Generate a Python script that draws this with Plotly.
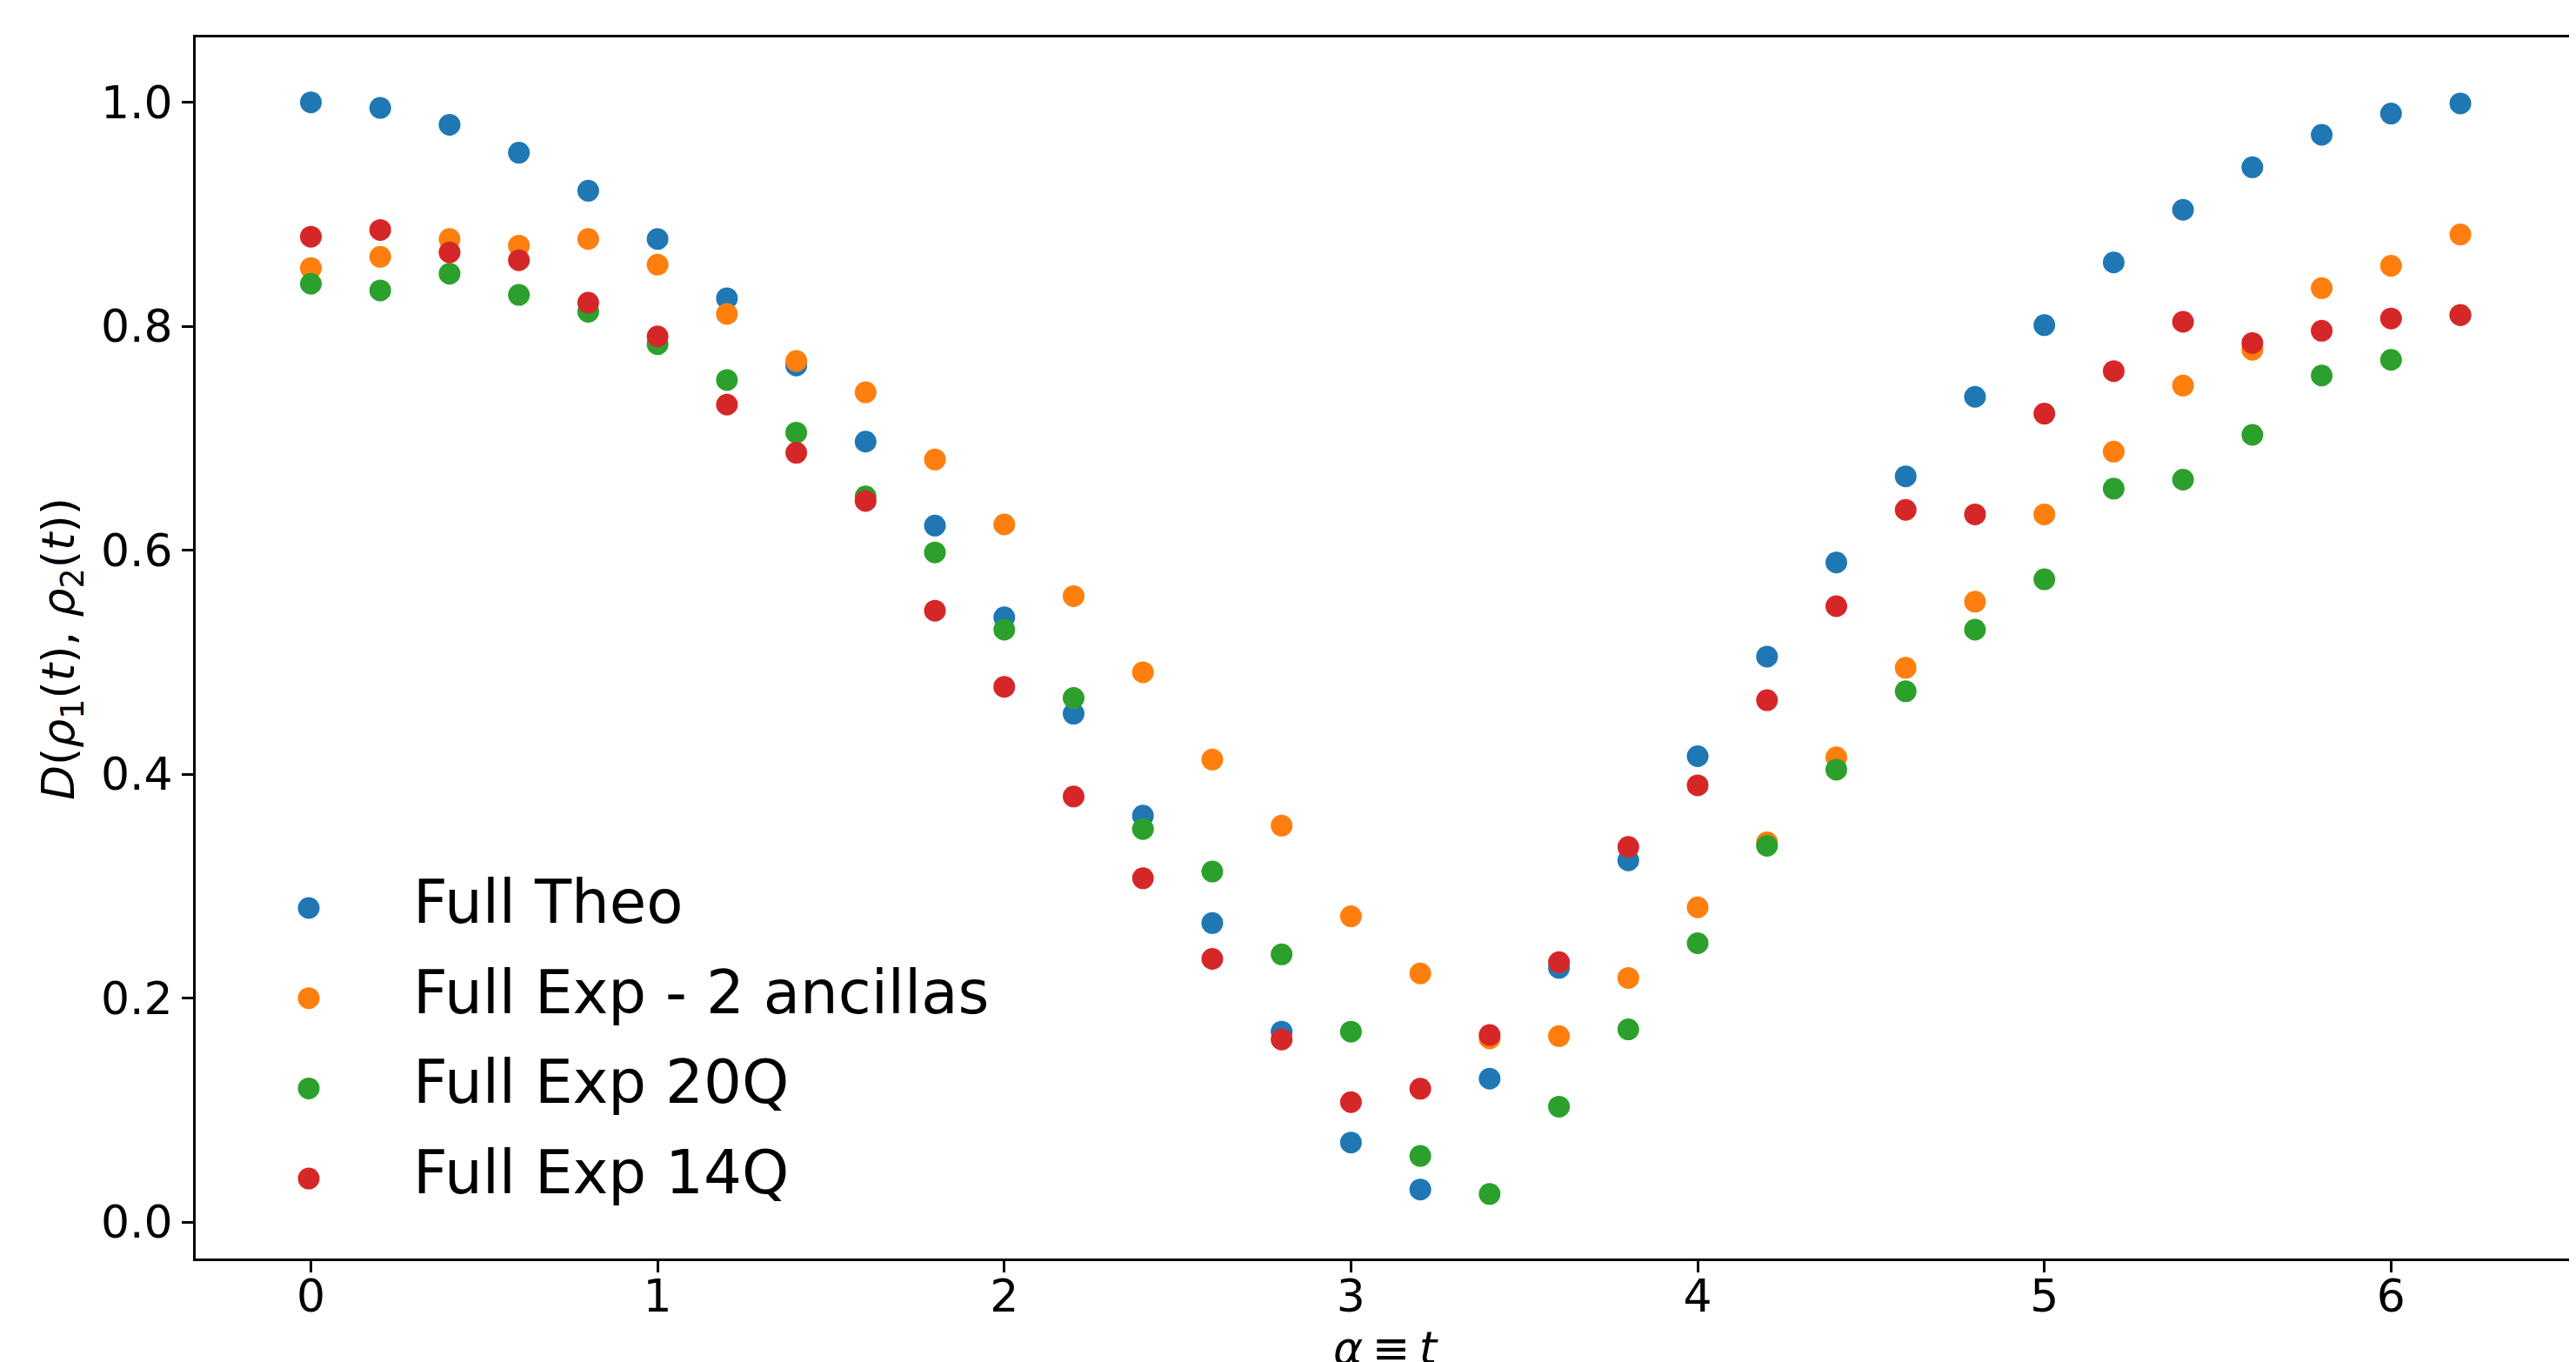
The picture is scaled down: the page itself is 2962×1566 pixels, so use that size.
import plotly.graph_objects as go

t_values = [0.0, 0.2, 0.4, 0.6, 0.8, 1.0, 1.2, 1.4, 1.6, 1.8, 2.0, 2.2, 2.4, 2.6, 2.8, 3.0,
            3.2, 3.4, 3.6, 3.8, 4.0, 4.2, 4.4, 4.6, 4.8, 5.0, 5.2, 5.4, 5.6, 5.8, 6.0, 6.2]

full_theo = [1.000, 0.995, 0.980, 0.955, 0.921, 0.878, 0.825, 0.765, 0.697, 0.622, 0.540,
             0.454, 0.363, 0.267, 0.170, 0.071, 0.029, 0.128, 0.227, 0.323, 0.416, 0.505,
             0.589, 0.666, 0.737, 0.801, 0.857, 0.904, 0.942, 0.971, 0.990, 0.999]

full_exp_2anc = [0.852, 0.862, 0.878, 0.872, 0.878, 0.855, 0.811, 0.769, 0.741, 0.681, 0.623,
                 0.559, 0.491, 0.413, 0.354, 0.273, 0.222, 0.164, 0.166, 0.218, 0.281, 0.339,
                 0.415, 0.495, 0.554, 0.632, 0.688, 0.747, 0.779, 0.834, 0.854, 0.882]

full_exp_20q = [0.838, 0.832, 0.847, 0.828, 0.813, 0.784, 0.752, 0.705, 0.648, 0.598, 0.529,
                0.468, 0.351, 0.313, 0.239, 0.170, 0.059, 0.025, 0.103, 0.172, 0.249, 0.336,
                0.404, 0.474, 0.529, 0.574, 0.655, 0.663, 0.703, 0.756, 0.770, 0.810]

full_exp_14q = [0.880, 0.886, 0.866, 0.859, 0.821, 0.791, 0.730, 0.687, 0.644, 0.546, 0.478,
                0.380, 0.307, 0.235, 0.163, 0.107, 0.119, 0.167, 0.232, 0.335, 0.390, 0.466,
                0.550, 0.636, 0.632, 0.722, 0.760, 0.804, 0.785, 0.796, 0.807, 0.810]

series_names = ["Full Theo", "Full Exp - 2 ancillas", "Full Exp 20Q", "Full Exp 14Q"]
series_values = [full_theo, full_exp_2anc, full_exp_20q, full_exp_14q]
series_colors = ["#1f77b4", "#ff7f0e", "#2ca02c", "#d62728"]

x_ticks = [0, 1, 2, 3, 4, 5, 6]
y_ticks = [0.0, 0.2, 0.4, 0.6, 0.8, 1.0]
y_tick_labels = ["0.0", "0.2", "0.4", "0.6", "0.8", "1.0"]

x_title = "<i>α</i>\u2009≡\u2009<i>t</i>"
y_title = "<i>D</i>(<i>ρ</i><sub>1</sub>(<i>t</i>), <i>ρ</i><sub>2</sub>(<i>t</i>))"

W, H = 2962, 1566
FONT = "DejaVu Sans"
OFF = 8  # page body margin shifts the figure by this much
ML, MT = 225 - OFF, 43 - OFF
MR = W - (2961 - OFF)
MB = H - (1447 - OFF)
PW, PH = W - ML - MR, H - MT - MB


def px_x(px):
    return (px - OFF - ML) / PW


def px_y(py):
    return (H - MB - (py - OFF)) / PH


fig = go.Figure()
for name, vals, col in zip(series_names, series_values, series_colors):
    fig.add_trace(go.Scatter(
        x=t_values, y=vals, mode="markers", name=name, showlegend=False,
        marker=dict(color=col, size=25, line=dict(width=0)),
    ))

axis_common = dict(
    showline=True, linecolor="black", linewidth=3, mirror=True,
    ticks="outside", ticklen=13, tickwidth=3, tickcolor="black",
    showgrid=False, zeroline=False,
    tickfont=dict(family=FONT, size=52, color="black"),
    automargin=False,
)

# legend (manual, so that the symbols keep the marker size)
shapes = []
annotations = []
LEG_X_SYM, LEG_X_TEXT, LEG_Y0, LEG_DY = 355, 473, 1044, 103.7
for i, (name, col) in enumerate(zip(series_names, series_colors)):
    cy = LEG_Y0 + i * LEG_DY
    shapes.append(dict(
        type="circle", xref="paper", yref="paper",
        xsizemode="pixel", ysizemode="pixel",
        xanchor=px_x(LEG_X_SYM), yanchor=px_y(cy),
        x0=-12.5, x1=12.5, y0=-12.5, y1=12.5,
        fillcolor=col, line=dict(width=0),
    ))
    annotations.append(dict(
        xref="paper", yref="paper", x=px_x(LEG_X_TEXT), y=px_y(cy - 7),
        xanchor="left", yanchor="middle", showarrow=False,
        text=name, font=dict(family=FONT, size=69, color="black"),
    ))

annotations.append(dict(
    xref="paper", yref="paper", x=px_x(1593), y=px_y(1518),
    xanchor="center", yanchor="top", showarrow=False,
    text=x_title, font=dict(family=FONT, size=52, color="black"),
))
annotations.append(dict(
    xref="paper", yref="paper", x=px_x(71), y=px_y(746),
    xanchor="center", yanchor="middle", showarrow=False, textangle=-90,
    text=y_title, font=dict(family=FONT, size=52, color="black"),
))

fig.update_layout(
    width=W, height=H,
    margin=dict(l=ML, r=MR, t=MT, b=MB, pad=0, autoexpand=False),
    paper_bgcolor="white", plot_bgcolor="white",
    font=dict(family=FONT, color="black"),
    showlegend=False,
    shapes=shapes,
    annotations=annotations,
    xaxis=dict(
        range=[-0.3323, 6.531],
        tickmode="array", tickvals=x_ticks, ticktext=[str(v) for v in x_ticks],
        ticklabelstandoff=-17,
        **axis_common,
    ),
    yaxis=dict(
        range=[-0.0326, 1.058],
        tickmode="array", tickvals=y_ticks, ticktext=y_tick_labels,
        **axis_common,
    ),
)

fig.write_html("out.html")
